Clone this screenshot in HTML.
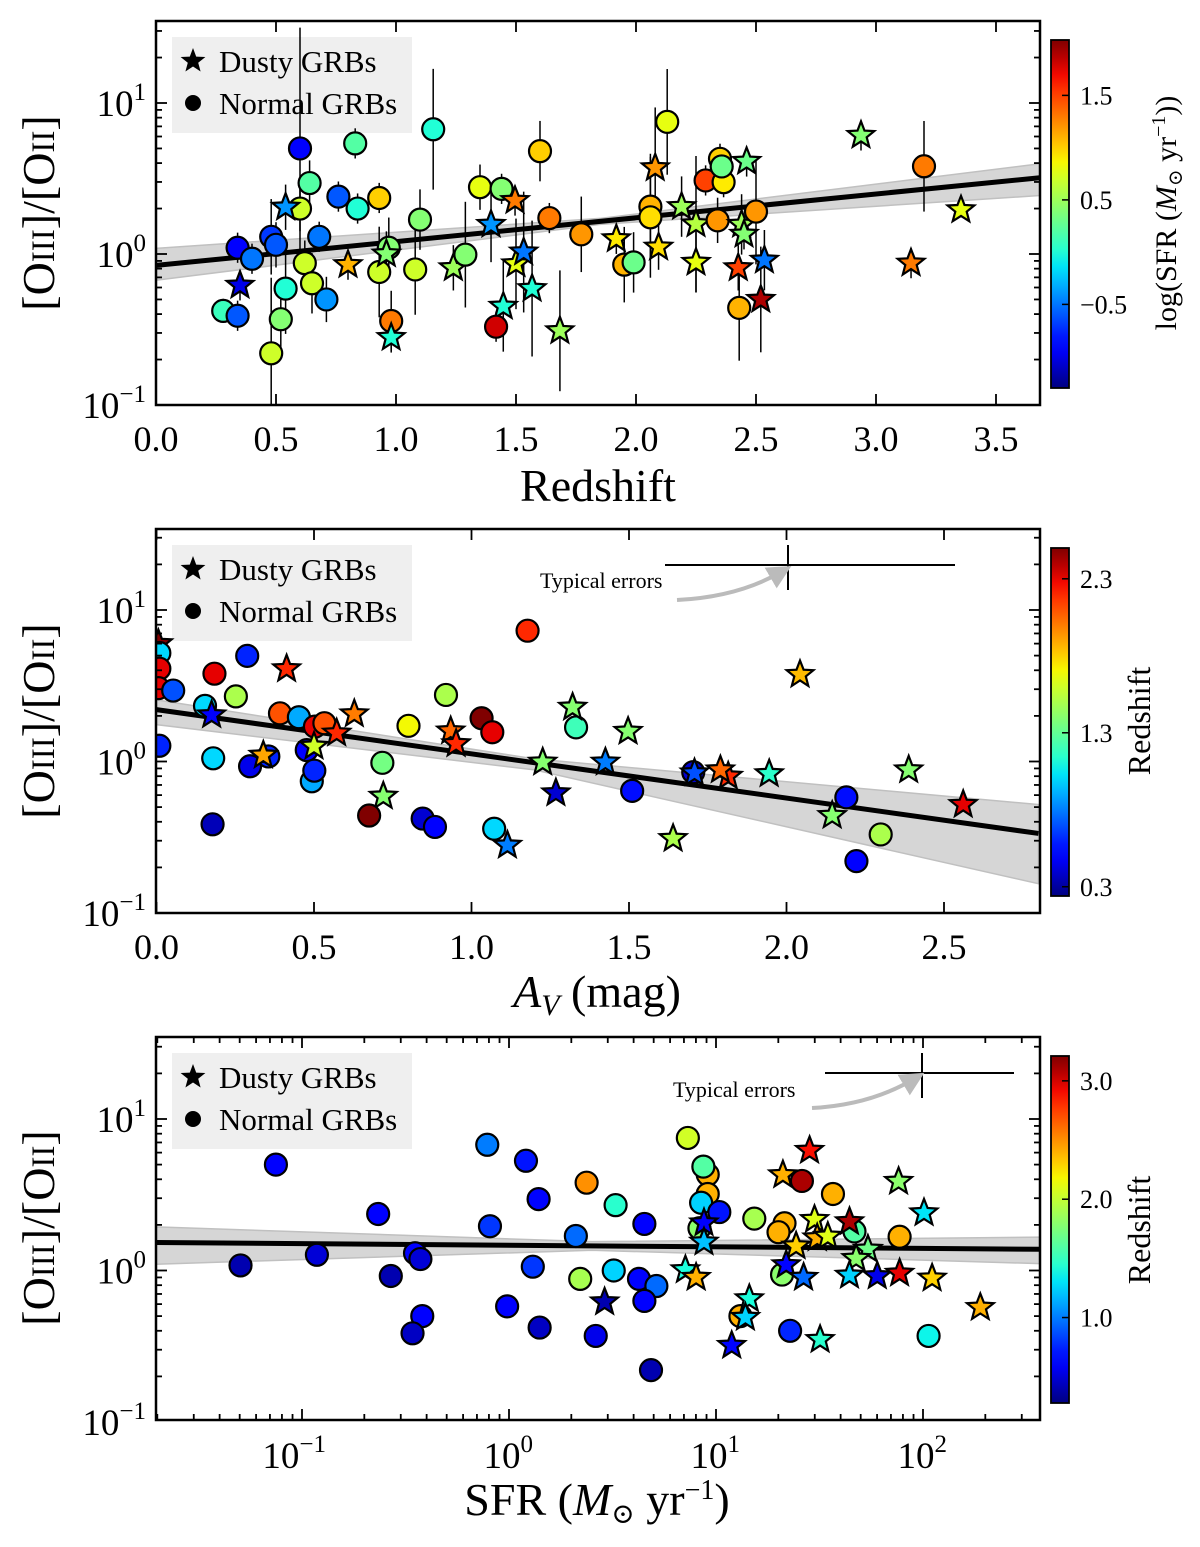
<!DOCTYPE html>
<html><head><meta charset="utf-8"><title>GRB [OIII]/[OII]</title>
<style>
html,body{margin:0;padding:0;background:#fff;}
svg{display:block;font-family:"Liberation Serif","DejaVu Serif",serif;}
</style></head>
<body>
<svg id="fig" xmlns="http://www.w3.org/2000/svg" width="1200" height="1547" viewBox="0 0 1200 1547">
<defs>
<clipPath id="clip1"><rect x="156" y="21" width="884" height="384"/></clipPath>
<clipPath id="clip2"><rect x="156" y="529" width="884" height="384"/></clipPath>
<clipPath id="clip3"><rect x="156" y="1037" width="884" height="383"/></clipPath>
<linearGradient id="jetgrad" x1="0" y1="1" x2="0" y2="0"></linearGradient>
<marker id="arrowhead" markerWidth="6" markerHeight="6" refX="3" refY="3" orient="auto" markerUnits="strokeWidth"><path d="M0,0 L6,3 L0,6 Z" fill="#bbbbbb"/></marker>
</defs>

<g>
<rect x="172" y="37" width="240" height="96" fill="#efefef"/>
<text x="219" y="72" font-size="31">Dusty GRBs</text>
<text x="219" y="114" font-size="31">Normal GRBs</text>
</g>
<g>
<rect x="172" y="545" width="240" height="96" fill="#efefef"/>
<text x="219" y="580" font-size="31">Dusty GRBs</text>
<text x="219" y="622" font-size="31">Normal GRBs</text>
</g>
<g>
<rect x="172" y="1053" width="240" height="96" fill="#efefef"/>
<text x="219" y="1088" font-size="31">Dusty GRBs</text>
<text x="219" y="1130" font-size="31">Normal GRBs</text>
</g>

<text transform="translate(54,213) rotate(-90)" text-anchor="middle" font-size="46">[O<tspan font-size="33">III</tspan>]/[O<tspan font-size="33">II</tspan>]</text>
<text transform="translate(54,721) rotate(-90)" text-anchor="middle" font-size="46">[O<tspan font-size="33">III</tspan>]/[O<tspan font-size="33">II</tspan>]</text>
<text transform="translate(54,1228) rotate(-90)" text-anchor="middle" font-size="46">[O<tspan font-size="33">III</tspan>]/[O<tspan font-size="33">II</tspan>]</text>
<text x="598" y="501" text-anchor="middle" font-size="46">Redshift</text>
<text x="597" y="1007" text-anchor="middle" font-size="46"><tspan font-style="italic">A</tspan><tspan font-style="italic" font-size="30" dy="8">V</tspan><tspan dy="-8"> (mag)</tspan></text>
<text x="597" y="1515" text-anchor="middle" font-size="46">SFR (<tspan font-style="italic">M</tspan><tspan font-size="28" dy="8">⊙</tspan><tspan dy="-8"> yr</tspan><tspan font-size="28" dy="-16">−1</tspan><tspan dy="16">)</tspan></text>

<text transform="translate(1176,213) rotate(-90)" text-anchor="middle" font-size="30">log(SFR (<tspan font-style="italic">M</tspan><tspan font-size="20" dy="6">⊙</tspan><tspan dy="-6"> yr</tspan><tspan font-size="20" dy="-11">−1</tspan><tspan dy="11">))</tspan></text>
<text transform="translate(1150,721) rotate(-90)" text-anchor="middle" font-size="32">Redshift</text>
<text transform="translate(1150,1230) rotate(-90)" text-anchor="middle" font-size="32">Redshift</text>

<g>
<line x1="665" y1="565" x2="955" y2="565" stroke="#000" stroke-width="2"/>
<line x1="788" y1="545" x2="788" y2="590" stroke="#000" stroke-width="2"/>
<text x="540" y="588" font-size="22">Typical errors</text>
<path d="M677,600 Q738,597 781,572" fill="none" stroke="#bbbbbb" stroke-width="4" marker-end="url(#arrowhead)"/>
</g>
<g>
<line x1="825" y1="1073" x2="1014" y2="1073" stroke="#000" stroke-width="2"/>
<line x1="922" y1="1053" x2="922" y2="1098" stroke="#000" stroke-width="2"/>
<text x="673" y="1097" font-size="22">Typical errors</text>
<path d="M812,1108 Q870,1105 914,1079" fill="none" stroke="#bbbbbb" stroke-width="4" marker-end="url(#arrowhead)"/>
</g>
</svg>

<script>
// ---------- Panel 1 data: redshift vs ratio, colour = log SFR ----------
const p1Z = [0.28,0.34,0.35,0.34,0.40,0.48,0.50,0.48,0.52,0.54,0.60,0.54,0.60,0.64,0.62,0.65,0.68,0.71,0.76,0.83,0.84,0.80,0.93,0.93,0.97,0.96,0.98,0.98,1.08,1.10,1.155,1.239,1.289,1.35,1.44,1.396,1.447,1.417,1.496,1.50,1.532,1.567,1.60,1.639,1.683,1.772,1.918,1.951,1.99,2.06,2.06,2.08,2.13,2.094,2.19,2.25,2.25,2.29,2.34,2.35,2.365,2.357,2.461,2.44,2.45,2.426,2.43,2.50,2.52,2.535,2.9375,3.20,3.354,3.146];
const p1Ratio = [0.42,0.39,0.62,1.1,0.93,1.3,1.15,0.22,0.37,0.59,2.0,2.04,5.0,2.95,0.87,0.64,1.3,0.50,2.4,5.4,2.0,0.85,2.35,0.76,1.1,1.0,0.36,0.28,0.79,1.69,6.7,0.81,0.99,2.77,2.7,1.57,0.45,0.33,2.26,0.86,1.03,0.59,4.8,1.73,0.31,1.35,1.26,0.85,0.88,2.06,1.75,3.72,7.5,1.11,2.06,0.88,1.58,3.07,1.67,4.27,2.99,3.8,4.1,1.57,1.35,0.81,0.44,1.91,0.50,0.91,6.1,3.81,1.96,0.87];
const p1SFR = [0.1,-0.6,-1.0,-0.9,-0.5,-0.7,-0.6,0.7,0.4,0.0,0.7,-0.4,-0.9,0.2,0.7,0.7,-0.5,-0.4,-0.6,0.2,0.0,1.1,1.0,0.7,0.4,0.4,1.3,0.0,0.7,0.4,0.0,0.5,0.4,0.8,0.4,-0.4,0.0,1.8,1.3,0.8,-0.5,0.0,1.0,1.3,0.5,1.2,0.9,1.1,0.3,1.1,0.95,1.2,0.8,0.95,0.5,0.8,0.6,1.5,1.2,1.0,0.9,0.3,0.3,0.5,0.4,1.5,1.1,1.2,1.9,-0.5,0.4,1.3,0.8,1.3];
const p1Marker = ['c','c','s','c','c','c','c','c','c','c',
                  'c','s','c','c','c','c','c','c','c','c',
                  'c','s','c','c','c','s','c','s','c','c',
                  'c','s','c','c','c','s','s','c','s','s',
                  's','s','c','c','s','c','s','c','c','c',
                  'c','s','c','s','s','s','s','c','c','c',
                  'c','c','s','s','s','s','c','c','s','s',
                  's','c','s','s'];
const p1Err = [0.08,0.1,0.1,0.1,0.1,0.25,0.15,0.5,0.2,0.3,0.15,0.15,0.8,0.15,0.15,0.2,0.1,0.15,0.1,0.1,0.1,0.1,0.1,0.3,0.2,0.15,0.2,0.1,0.3,0.2,0.4,0.15,0.35,0.15,0.1,0.25,0.3,0.1,0.1,0.3,0.4,0.45,0.2,0.1,0.4,0.25,0.1,0.25,0.2,0.35,0.4,0.4,0.35,0.15,0.2,0.2,0.45,0.1,0.15,0.1,0.1,0.1,0.1,0.2,0.1,0.15,0.35,0.35,0.35,0.2,0.1,0.3,0.05,0.1];
const p1FitX = [0, 1.85, 3.683];
const p1FitY = [0.84, 1.64, 3.2];
const p1BandLo = [0.67, 1.57, 2.44];
const p1BandHi = [1.09, 1.72, 3.96];
const p1XTicks = [0.0,0.5,1.0,1.5,2.0,2.5,3.0,3.5];
const p1XTickLabels = ["0.0","0.5","1.0","1.5","2.0","2.5","3.0","3.5"];
const cb1Ticks = [1.5, 0.5, -0.5];
const cb1TickLabels = ["1.5","0.5","−0.5"];

// ---------- Panel 2 data: A_V vs ratio, colour = redshift ----------
const p2AV = [0.006,0.009,0.009,0.006,0.053,0.009,0.184,0.288,0.154,0.175,0.180,0.178,0.252,0.413,0.297,0.355,0.339,0.392,0.452,0.503,0.533,0.572,0.477,0.500,0.493,0.501,0.628,0.80,0.919,0.717,0.72,0.675,0.934,0.951,1.032,1.066,0.845,0.884,1.072,1.114,1.178,1.332,1.321,1.226,1.268,1.497,1.425,1.510,1.640,1.704,1.708,1.815,1.790,1.945,2.043,2.190,2.145,2.299,2.222,2.388,2.561];
const p2Ratio = [6.0,5.2,4.1,3.05,2.94,1.27,3.8,4.98,2.33,2.03,1.05,0.385,2.69,4.09,0.93,1.08,1.10,2.08,1.96,1.70,1.79,1.54,1.19,1.26,0.74,0.87,2.06,1.72,2.75,0.98,0.59,0.44,1.59,1.31,1.93,1.56,0.42,0.37,0.36,0.28,7.3,1.68,2.28,0.99,0.62,1.58,0.99,0.64,0.31,0.85,0.84,0.80,0.88,0.83,3.75,0.58,0.44,0.33,0.22,0.88,0.52];
const p2Z = [2.5,1.0,2.3,2.3,0.7,0.6,2.3,0.6,1.0,0.5,1.0,0.35,1.5,2.2,0.45,0.6,1.9,2.1,0.9,2.3,2.1,2.2,0.5,1.6,0.9,0.6,2.0,1.7,1.5,1.35,1.4,2.5,2.05,2.2,2.5,2.3,0.4,0.5,1.0,0.8,2.2,1.2,1.4,1.4,0.4,1.4,0.8,0.55,1.5,0.4,0.7,2.2,2.05,1.15,1.85,0.55,1.4,1.5,0.5,1.4,2.3];
const p2Marker = ['s','c','c','c','c','c','c','c','c','s',
                  'c','c','c','s','c','c','s','c','c','c',
                  'c','s','c','s','c','c','s','c','c','c',
                  's','c','s','s','c','c','c','c','c','s',
                  'c','c','s','s','s','s','s','c','s','c',
                  's','s','s','s','s','c','s','c','c','s',
                  's'];
const p2FitX = [0, 1.2, 2.8];
const p2FitY = [2.2, 0.99, 0.335];
const p2BandLo = [1.75, 0.88, 0.156];
const p2BandHi = [2.55, 1.04, 0.52];
const p2XTicks = [0.0,0.5,1.0,1.5,2.0,2.5];
const p2XTickLabels = ["0.0","0.5","1.0","1.5","2.0","2.5"];
const cb2Ticks = [2.3, 1.3, 0.3];
const cb2TickLabels = ["2.3","1.3","0.3"];

// ---------- Panel 3 data: log SFR vs ratio, colour = redshift ----------
const p3LogSFR = [-1.297,-1.126,-0.928,-0.632,-0.571,-0.454,-0.428,-0.419,-0.466,-0.105,-0.092,0.082,0.143,0.115,-0.009,0.148,0.375,0.515,0.323,0.654,0.344,0.506,0.462,0.628,0.712,0.654,0.419,0.686,0.864,0.96,0.939,0.96,0.928,1.016,0.92,0.942,0.942,0.852,0.904,1.185,1.331,1.302,1.452,1.323,1.415,1.565,1.476,1.489,1.540,1.387,1.669,1.645,1.734,1.677,1.887,1.882,2.005,1.319,1.339,1.423,1.645,1.779,1.887,2.044,2.277,1.118,1.161,1.142,1.076,1.358,1.503,2.027];
const p3Ratio = [1.08,5.0,1.27,2.36,0.92,1.30,1.19,0.50,0.385,6.76,1.96,5.3,2.96,1.06,0.58,0.42,3.8,2.7,1.69,2.03,0.88,1.0,0.62,0.88,0.79,0.63,0.37,0.22,7.5,4.3,4.85,3.2,2.8,2.43,1.9,2.06,1.54,1.01,0.90,2.2,2.05,1.79,6.2,4.28,3.9,3.2,2.17,1.64,1.68,1.45,1.81,2.1,1.38,1.2,1.67,3.87,2.4,0.94,1.09,0.90,0.93,0.92,0.96,0.89,0.57,0.50,0.65,0.49,0.32,0.40,0.35,0.37];
const p3Z = [0.4,0.6,0.5,0.6,0.4,0.6,0.5,0.6,0.45,1.0,0.8,0.7,0.65,0.8,0.6,0.45,2.5,1.45,0.95,0.6,1.9,1.25,0.4,0.65,0.95,0.6,0.55,0.4,2.05,2.4,1.6,2.4,1.25,0.7,1.8,0.6,1.2,1.4,2.4,1.9,2.4,2.4,2.9,2.4,3.1,2.4,2.1,2.4,2.1,2.3,1.6,3.1,1.7,1.8,2.4,1.8,1.3,1.8,0.65,0.95,1.25,0.55,2.95,2.3,2.4,2.4,1.4,1.25,0.65,0.75,1.45,1.35];
const p3Marker = ['c','c','c','c','c','c','c','c','c','c',
                  'c','c','c','c','c','c','c','c','c','c',
                  'c','c','s','c','c','c','c','c','c','c',
                  'c','c','c','c','c','s','s','s','s','c',
                  'c','c','s','s','c','c','s','s','s','s',
                  'c','s','s','s','c','s','s','c','s','s',
                  's','s','s','s','s','c','s','s','s','c',
                  's','c'];
const p3FitX = [-1.705, 0.4, 2.565];
const p3FitY = [1.53, 1.45, 1.38];
const p3BandLo = [1.10, 1.36, 1.11];
const p3BandHi = [1.94, 1.55, 1.66];
const p3XTicks = [-1, 0, 1, 2];
const p3XTickLabels = ["−1","0","1","2"];
const cb3Ticks = [3.0, 2.0, 1.0];
const cb3TickLabels = ["3.0","2.0","1.0"];

const yTickExps = [-1, 0, 1];
const yTickLabels = ["−1","0","1"];

const NS = "http://www.w3.org/2000/svg";
const svg = document.getElementById('fig');
function el(tag, attrs, parent) {
  const e = document.createElementNS(NS, tag);
  for (const k in attrs) e.setAttribute(k, attrs[k]);
  (parent || svg).appendChild(e);
  return e;
}
function interp(stops, t) {
  if (t <= stops[0][0]) return stops[0][1];
  for (let i = 1; i < stops.length; i++) {
    if (t <= stops[i][0]) {
      const a = stops[i-1], b = stops[i];
      return a[1] + (b[1]-a[1]) * (t-a[0])/(b[0]-a[0]);
    }
  }
  return stops[stops.length-1][1];
}
const JR = [[0,0],[0.35,0],[0.66,1],[0.89,1],[1,0.5]];
const JG = [[0,0],[0.125,0],[0.375,1],[0.64,1],[0.91,0],[1,0]];
const JB = [[0,0.5],[0.11,1],[0.34,1],[0.65,0],[1,0]];
function jet(t) {
  t = Math.max(0, Math.min(1, t));
  const r = Math.round(255*interp(JR,t)), g = Math.round(255*interp(JG,t)), b = Math.round(255*interp(JB,t));
  return `rgb(${r},${g},${b})`;
}
const grad = document.getElementById('jetgrad');
for (let i = 0; i <= 20; i++) {
  el('stop', {offset: (i/20).toFixed(2), 'stop-color': jet(i/20)}, grad);
}
function starPath(cx, cy, R, r) {
  let d = '';
  for (let i = 0; i < 10; i++) {
    const a = -Math.PI/2 + i*Math.PI/5;
    const rr = i % 2 === 0 ? R : r;
    d += (i ? 'L' : 'M') + (cx + rr*Math.cos(a)).toFixed(1) + ',' + (cy + rr*Math.sin(a)).toFixed(1);
  }
  return d + 'Z';
}
function sup(parent, x, y, base, exp, size) {
  const t = el('text', {x: x, y: y, 'font-size': size, 'text-anchor': 'end'}, parent);
  const b = document.createElementNS(NS, 'tspan'); b.textContent = base; t.appendChild(b);
  const s = document.createElementNS(NS, 'tspan');
  s.setAttribute('font-size', Math.round(size*0.68)); s.setAttribute('dy', -Math.round(size*0.42));
  s.textContent = exp; t.appendChild(s);
  return t;
}

[0, 508, 1016].forEach((off) => {
  const st = el('path', {d: starPath(193, 61+off, 13, 5.5), fill: '#000'});
  
  
  const ci = el('circle', {cx: 193, cy: 103+off, r: 8, fill: '#000'});
  
  
});

function panel(cfg) {
  const {L, R, T, B, sx, sy, clip, idx} = cfg;
  const g = el('g', {});
  
  
  const band = el('polygon', {
    points: cfg.fitX.map((x,i) => sx(x)+','+sy(cfg.bandHi[i])).concat(cfg.fitX.slice().reverse().map((x,i) => sx(x)+','+sy(cfg.bandLo[cfg.fitX.length-1-i]))).join(' '),
    fill: '#d6d6d6', stroke: '#c0c0c0', 'stroke-width': 1.5, 'clip-path': `url(#${clip})`}, g);
  
  
  const n = cfg.fitX.length - 1;
  const fit = el('line', {x1: sx(cfg.fitX[0]), y1: sy(cfg.fitY[0]), x2: sx(cfg.fitX[n]), y2: sy(cfg.fitY[n]), stroke: '#000', 'stroke-width': 5, 'clip-path': `url(#${clip})`}, g);
  
  
  if (cfg.err) {
    cfg.xs.forEach((x, i) => {
      const eb = el('line', {x1: sx(x), x2: sx(x), y1: sy(cfg.ys[i]*Math.pow(10, cfg.err[i])), y2: sy(cfg.ys[i]/Math.pow(10, cfg.err[i])), stroke: '#000', 'stroke-width': 1.5, 'clip-path': `url(#${clip})`}, g);
      
      
    });
  }
  cfg.xs.forEach((x, i) => {
    const px = sx(x), py = sy(cfg.ys[i]);
    const col = jet((cfg.cs[i]-cfg.vmin)/(cfg.vmax-cfg.vmin));
    let m;
    if (cfg.mk[i] === 's') {
      m = el('path', {d: starPath(px, py, 14, 6), fill: col, stroke: '#000', 'stroke-width': 2.2, 'clip-path': `url(#${clip})`}, g);
      
    } else {
      m = el('circle', {cx: px, cy: py, r: 11, fill: col, stroke: '#000', 'stroke-width': 2.2, 'clip-path': `url(#${clip})`}, g);
      
    }
    
  });
  const fr = el('rect', {x: L, y: T, width: R-L, height: B-T, fill: 'none', stroke: '#000', 'stroke-width': 2.5}, g);
  
  
  const yMinE = Math.floor(Math.log10(cfg.yLo)), yMaxE = Math.ceil(Math.log10(cfg.yHi));
  for (let e = yMinE; e <= yMaxE; e++) {
    for (let k = 1; k <= 9; k++) {
      const v = k*Math.pow(10, e);
      const py = sy(v);
      if (py < T-0.5 || py > B+0.5) continue;
      const len = k === 1 ? 11 : 6;
      el('line', {x1: L, x2: L+len, y1: py, y2: py, stroke: '#000', 'stroke-width': 1.8}, g);
      el('line', {x1: R, x2: R-len, y1: py, y2: py, stroke: '#000', 'stroke-width': 1.8}, g);
    }
  }
  yTickExps.forEach((e, i) => {
    const t = sup(g, 146, sy(Math.pow(10, e)) + 13, '10', yTickLabels[i], 37);
    
    
  });
  if (cfg.logX) {
    for (let e = -2; e <= 2; e++) {
      for (let k = 1; k <= 9; k++) {
        const px = sx(Math.log10(k) + e);
        if (px < L-0.5 || px > R+0.5) continue;
        const len = k === 1 ? 11 : 6;
        el('line', {x1: px, x2: px, y1: B, y2: B-len, stroke: '#000', 'stroke-width': 1.8}, g);
        el('line', {x1: px, x2: px, y1: T, y2: T+len, stroke: '#000', 'stroke-width': 1.8}, g);
      }
    }
    cfg.xTicks.forEach((v, i) => {
      const t = sup(g, sx(v) + 24, B + 48, '10', cfg.xTickLabels[i], 37);
      
      
    });
  } else {
    cfg.xTicks.forEach((v, i) => {
      const px = sx(v);
      el('line', {x1: px, x2: px, y1: B, y2: B-11, stroke: '#000', 'stroke-width': 1.8}, g);
      el('line', {x1: px, x2: px, y1: T, y2: T+11, stroke: '#000', 'stroke-width': 1.8}, g);
      const t = el('text', {x: px, y: B + 46, 'font-size': 36, 'text-anchor': 'middle'}, g);
      t.textContent = cfg.xTickLabels[i];
      
      
    });
  }
  const cb = cfg.cb;
  const bar = el('rect', {x: 1051, y: cb.top, width: 18, height: cb.bottom-cb.top, fill: 'url(#jetgrad)', stroke: '#000', 'stroke-width': 1.8}, g);
  
  
  cb.ticks.forEach((v, i) => {
    const py = cb.bottom - (v-cfg.vmin)/(cfg.vmax-cfg.vmin)*(cb.bottom-cb.top);
    el('line', {x1: 1069, x2: 1062, y1: py, y2: py, stroke: '#000', 'stroke-width': 1.5}, g);
    const t = el('text', {x: 1080, y: py + 9, 'font-size': 26}, g);
    t.textContent = cb.labels[i];
    
    
  });
}

panel({idx: 1, L: 156, R: 1040, T: 21, B: 405, clip: 'clip1',
  sx: z => 156 + z*240, sy: r => 254 - Math.log10(r)*151,
  yLo: 0.1, yHi: 35, xs: p1Z, ys: p1Ratio, cs: p1SFR, mk: p1Marker, err: p1Err,
  vmin: -1.30, vmax: 2.03, fitX: p1FitX, fitY: p1FitY, bandLo: p1BandLo, bandHi: p1BandHi,
  xTicks: p1XTicks, xTickLabels: p1XTickLabels, logX: false,
  cb: {top: 40, bottom: 388, ticks: cb1Ticks, labels: cb1TickLabels}});
panel({idx: 2, L: 156, R: 1040, T: 529, B: 913, clip: 'clip2',
  sx: a => 156.5 + a*315, sy: r => 761.5 - Math.log10(r)*151.5,
  yLo: 0.1, yHi: 35, xs: p2AV, ys: p2Ratio, cs: p2Z, mk: p2Marker, err: null,
  vmin: 0.24, vmax: 2.50, fitX: p2FitX, fitY: p2FitY, bandLo: p2BandLo, bandHi: p2BandHi,
  xTicks: p2XTicks, xTickLabels: p2XTickLabels, logX: false,
  cb: {top: 548, bottom: 896, ticks: cb2Ticks, labels: cb2TickLabels}});
panel({idx: 3, L: 156, R: 1040, T: 1037, B: 1420, clip: 'clip3',
  sx: lx => 302 + (lx+1)*207, sy: r => 1270.5 - Math.log10(r)*151.5,
  yLo: 0.1, yHi: 35, xs: p3LogSFR, ys: p3Ratio, cs: p3Z, mk: p3Marker, err: null,
  vmin: 0.278, vmax: 3.21, fitX: p3FitX, fitY: p3FitY, bandLo: p3BandLo, bandHi: p3BandHi,
  xTicks: p3XTicks, xTickLabels: p3XTickLabels, logX: true,
  cb: {top: 1056, bottom: 1403, ticks: cb3Ticks, labels: cb3TickLabels}});
</script>
</body></html>
